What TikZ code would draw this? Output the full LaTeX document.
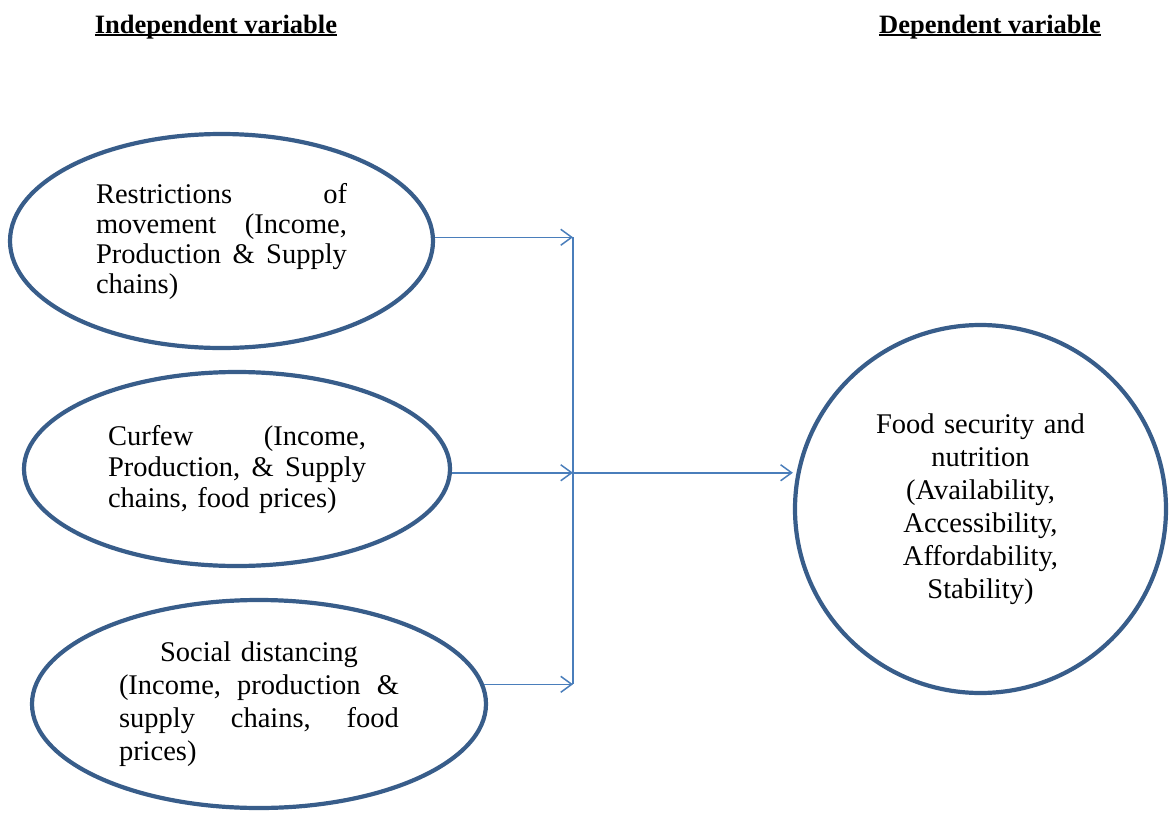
\documentclass[tikz,border=0pt]{standalone}
\usepackage{fontspec}
\setmainfont{Liberation Serif}
\usetikzlibrary{shapes.geometric,arrows.meta}

\definecolor{ringblue}{HTML}{385D8A}
\definecolor{linkblue}{HTML}{4A7EBB}
\newcommand{\headline}[1]{\setbox0\hbox{#1}\rlap{\rule[-3pt]{\wd0}{1.8pt}}\box0}

\begin{document}
\begin{tikzpicture}[x=1pt,y=-1pt,
        head/.style={anchor=base,font=\fontsize{26.5pt}{30pt}\selectfont\bfseries},
        cause/.style={ellipse,draw=ringblue,line width=4.2pt,inner sep=0pt,align=left},
        wire/.style={draw=linkblue,line width=1.5pt},
        link/.style={wire,-{Straight Barb[length=11pt,width=16pt,line width=1.5pt]}}]
        \useasboundingbox (0,0) rectangle (1171,814);
        % headings
        \node [head] (indep) at (216,33) {\headline{Independent variable}};
        \node [head] (dep) at (990,33) {\headline{Dependent variable}};
        % independent variables
        \node [cause,minimum width=423pt,minimum height=214pt,text width=251pt,
            font=\fontsize{28.5pt}{30pt}\selectfont] (restrict) at (221.5,241)
            {Restrictions\hfill of\\movement \hfill (Income,\\Production \hfill \& \hfill Supply\\chains)};
        \node [cause,minimum width=426pt,minimum height=194pt,text width=258pt,
            font=\fontsize{28.5pt}{31pt}\selectfont] (curfew) at (237,469)
            {Curfew \hfill (Income,\\Production, \hfill \& \hfill Supply\\chains, food prices)};
        \node [cause,minimum width=454pt,minimum height=208pt,text width=280pt,
            font=\fontsize{28.5pt}{33pt}\selectfont] (social) at (259,704)
            {\hspace*{\fill}Social distancing\hspace*{\fill}\mbox{}\\(Income, \hfill production \hfill \&\\supply \hfill chains, \hfill food\\prices)};
        % dependent variable
        \node [cause,align=center,minimum width=371pt,minimum height=368pt,text width=230pt,
            font=\fontsize{28.5pt}{33pt}\selectfont] (food) at (980.5,509)
            {Food security and\\nutrition\\(Availability,\\Accessibility,\\Affordability,\\Stability)};
        % connectors
        \coordinate (bus) at (573,0);
        \draw [link] (restrict.1) -- (restrict.1 -| bus);
        \draw [link] (curfew.-1) -- (curfew.-1 -| bus);
        \draw [link] (social.5) -- (social.5 -| bus);
        \draw [wire] (restrict.1 -| bus) -- (social.5 -| bus);
        \draw [link] (curfew.-1 -| bus) -- (curfew.-1 -| food.west);
    \end{tikzpicture}
\end{document}
